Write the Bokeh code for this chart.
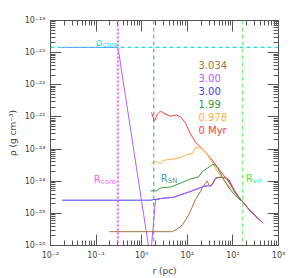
from bokeh.plotting import figure
from bokeh.models import LogAxis, FixedTicker, CustomJSTickFormatter, Label, Span
from bokeh.embed import file_html
from bokeh.resources import INLINE

# ---------------- data ----------------
x_tick_exp = [-2, -1, 0, 1, 2, 3]
y_tick_exp = [-26, -25, -24, -23, -22, -21, -20, -19]

rho_core = 1.45e-20   # g cm^-3
R_core = 0.30         # pc
R_SN = 1.84           # pc
R_vir = 165.0         # pc

# 0 Myr (red)
r_0 = [1.64, 1.91, 2.22, 2.58, 3.33, 4.29, 5.79, 7.10, 9.14, 11.7, 15.1, 20.0, 25.1,
       35.2, 53.5, 75.0, 105, 160, 243, 363, 461]
rho_0 = [1.38e-22, 7.41e-23, 1.23e-22, 1.51e-22, 1.23e-22, 1.05e-22, 1.15e-22, 1.00e-22,
         6.46e-23, 2.95e-23, 1.66e-23, 1.10e-23, 7.76e-24, 4.5e-24, 2.04e-24, 1.10e-24,
         5.37e-25, 2.40e-25, 1.17e-25, 6.76e-26, 5.01e-26]

# 0.978 Myr (orange)
r_1 = [1.61, 2.01, 2.58, 3.05, 4.29, 7.10, 9.95, 12.8, 15.1, 19.5, 25.1, 29.6, 37.0,
       43.7, 53.5, 72.4, 103, 160, 243, 363]
rho_1 = [3.55e-24, 4.17e-24, 3.55e-24, 4.47e-24, 4.79e-24, 5.37e-24, 6.76e-24, 7.24e-24,
         1.12e-23, 1.07e-23, 8.13e-24, 5.75e-24, 3.55e-24, 2.24e-24, 1.51e-24, 8.71e-25,
         4.90e-25, 2.40e-25, 1.17e-25, 6.76e-26]

# 1.99 Myr (green)
r_2 = [1.56, 2.11, 2.58, 4.29, 7.10, 11.7, 17.9, 21.2, 27.3, 35.2, 41.5, 49.1, 63.1,
       88.5, 124, 147, 160, 243, 363]
rho_2 = [5.01e-25, 5.01e-25, 6.17e-25, 6.61e-25, 8.71e-25, 1.17e-24, 1.38e-24, 2.00e-24,
         2.51e-24, 3.31e-24, 3.16e-24, 2.24e-24, 1.10e-24, 5.37e-25, 3.16e-25, 2.51e-25,
         2.40e-25, 1.17e-25, 6.76e-26]

# 3.00 Myr (blue)
r_3 = [0.018, 1.56, 2.58, 4.98, 11.7, 23.0, 32.3, 35.2, 41.5, 49.1, 68.9, 81.3, 96.6,
       114, 147, 160, 243, 363]
rho_3 = [2.57e-25, 2.57e-25, 2.88e-25, 3.16e-25, 4.79e-25, 6.92e-25, 7.41e-25, 7.76e-25,
         1.23e-24, 1.32e-24, 1.29e-24, 1.10e-24, 6.92e-25, 4.27e-25, 2.69e-25, 2.40e-25,
         1.17e-25, 6.76e-26]

# 3.00 Myr (purple)
r_4 = [0.018, 0.302, 1.55, 2.01, 2.58, 4.98, 11.7, 23.0, 32.3, 35.2, 41.5, 49.1, 68.9,
       81.3, 96.6, 114, 147, 160, 243, 363, 461]
rho_4 = [1.45e-20, 1.45e-20, 3.98e-27, 2.57e-25, 2.88e-25, 3.16e-25, 4.79e-25, 6.92e-25,
         7.41e-25, 7.76e-25, 1.23e-24, 1.32e-24, 1.29e-24, 1.10e-24, 6.92e-25, 4.27e-25,
         2.69e-25, 2.40e-25, 1.17e-25, 6.76e-26, 5.01e-26]

# 3.034 Myr (brown)
r_5 = [0.197, 4.67, 6.01, 7.73, 9.95, 11.7, 15.1, 19.5, 21.2, 25.1, 27.3, 29.6, 32.3,
       38.1, 41.5, 49.1, 68.9, 81.3, 96.6, 114, 147, 160, 243, 363]
rho_5 = [2.69e-26, 2.69e-26, 3.24e-26, 4.37e-26, 7.41e-26, 1.17e-25, 2.69e-25, 4.79e-25,
         6.17e-25, 8.71e-25, 1.02e-24, 7.76e-25, 6.92e-25, 9.77e-25, 1.23e-24, 1.32e-24,
         1.29e-24, 1.10e-24, 6.92e-25, 4.27e-25, 2.69e-25, 2.40e-25, 1.17e-25, 6.76e-26]

legend_labels = ["3.034", "3.00", "3.00", "1.99", "0.978", "0 Myr"]

# ---------------- style ----------------
c_red = "#ff3b3b"
c_orange = "#ffb13b"
c_green = "#3a9a3a"
c_blue = "#4040ff"
c_purple = "#b060ff"
c_brown = "#b0703c"
c_cyan = "#1ee0e0"
c_magenta = "#ff5cff"
c_teal = "#3f9f9f"
c_lgreen = "#44ee44"
axis_col = "#555555"
font = "DejaVu Sans"

x_ticks = [10.0 ** e for e in x_tick_exp]
y_ticks = [10.0 ** e for e in y_tick_exp]
x_minor = [k * 10.0 ** e for e in x_tick_exp[:-1] for k in range(2, 10)]
y_minor = [k * 10.0 ** e for e in y_tick_exp[:-1] for k in range(2, 10)]

sup_js = """
const sup = {'-':'\u207b','0':'\u2070','1':'\u00b9','2':'\u00b2','3':'\u00b3','4':'\u2074',
             '5':'\u2075','6':'\u2076','7':'\u2077','8':'\u2078','9':'\u2079'};
const e = Math.round(Math.log10(tick));
return '10' + String(e).split('').map(c => sup[c]).join('');
"""

p = figure(width=293, height=278, x_axis_type="log", y_axis_type="log",
           x_range=(x_ticks[0], x_ticks[-1]), y_range=(y_ticks[0], y_ticks[-1]),
           output_backend="svg", toolbar_location=None,
           min_border_left=50, min_border_top=20, min_border_right=15, min_border_bottom=30)
p.grid.visible = False
p.outline_line_color = axis_col
p.background_fill_color = "white"
p.border_fill_color = "white"


def style_axis(ax, ticks, minor, label):
    ax.ticker = FixedTicker(ticks=ticks, minor_ticks=minor)
    ax.axis_line_color = axis_col
    ax.major_tick_line_color = axis_col
    ax.minor_tick_line_color = axis_col
    ax.major_tick_in = 11
    ax.major_tick_out = 0
    ax.minor_tick_in = 5
    ax.minor_tick_out = 0
    if label is None:
        ax.formatter = CustomJSTickFormatter(code="return '';")
        ax.major_label_text_font_size = "0px"
        ax.major_label_standoff = 0
    else:
        ax.formatter = CustomJSTickFormatter(code=sup_js)
        ax.major_label_text_font = font
        ax.major_label_text_font_size = "8px"
        ax.major_label_text_color = "#444444"
        ax.axis_label = label
        ax.axis_label_text_font = font
        ax.axis_label_text_font_size = "9px"
        ax.axis_label_text_font_style = "normal"
        ax.axis_label_text_color = "#444444"


style_axis(p.xaxis[0], x_ticks, x_minor, "r (pc)")
p.xaxis[0].major_label_standoff = 5
p.xaxis[0].axis_label_standoff = 3
style_axis(p.yaxis[0], y_ticks, y_minor, "\u03c1 (g cm\u207b\u00b3)")
p.yaxis[0].major_label_standoff = 5
p.yaxis[0].axis_label_standoff = 4

top_ax = LogAxis()
style_axis(top_ax, x_ticks, x_minor, None)
p.add_layout(top_ax, "above")
right_ax = LogAxis()
style_axis(right_ax, y_ticks, y_minor, None)
p.add_layout(right_ax, "right")

# reference lines
p.add_layout(Span(location=rho_core, dimension="width", line_color=c_cyan,
                  line_dash="4 3", line_width=1.2))
p.add_layout(Span(location=R_core, dimension="height", line_color=c_magenta,
                  line_dash="2 2", line_width=2))
p.add_layout(Span(location=R_SN, dimension="height", line_color=c_teal,
                  line_dash="4 3", line_width=1))
p.add_layout(Span(location=R_vir, dimension="height", line_color=c_lgreen,
                  line_dash="4 3", line_width=1))

# profiles
series = [(r_0, rho_0, c_red), (r_1, rho_1, c_orange), (r_2, rho_2, c_green),
          (r_3, rho_3, c_blue), (r_4, rho_4, c_purple), (r_5, rho_5, c_brown)]
for rr, dd, cc in series:
    p.line(rr, dd, line_color=cc, line_width=1)

# annotations
label_rho = 1.07e-24


def add_sub_label(x, y, main, sub, color, dx, dy):
    p.add_layout(Label(x=x, y=y, text=main, x_offset=dx, y_offset=dy, text_color=color,
                       text_font=font, text_font_size="10px", text_baseline="middle",
                       text_align="left"))
    p.add_layout(Label(x=x, y=y, text=sub, x_offset=dx + 7, y_offset=dy - 3,
                       text_color=color, text_font=font, text_font_size="7px",
                       text_baseline="middle", text_align="left"))


add_sub_label(R_core, rho_core, "\u03c1", "core", c_cyan, -22, 5)
add_sub_label(R_core, label_rho, "R", "core", c_magenta, -24, 1)
add_sub_label(R_SN, label_rho, "R", "SN", c_teal, 7, 2)
add_sub_label(R_vir, label_rho, "R", "vir", c_lgreen, 3, 2)

legend_colors = [c_brown, c_purple, c_blue, c_green, c_orange, c_red]
leg_x = 17.6
leg_y = 4.17e-21
for i, (txt, col) in enumerate(zip(legend_labels, legend_colors)):
    p.add_layout(Label(x=leg_x, y=leg_y, text=txt, y_offset=-13.1 * i, text_color=col,
                       text_font=font, text_font_size="10px", text_baseline="middle",
                       text_align="left"))

open("out.html", "w").write(file_html(p, INLINE))
